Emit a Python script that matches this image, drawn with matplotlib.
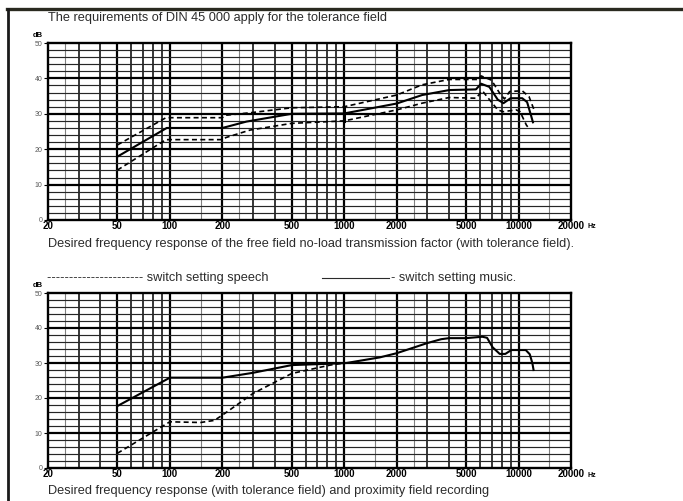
import matplotlib
matplotlib.use("Agg")
import matplotlib.pyplot as plt

plt.rcParams['font.family'] = ['Liberation Sans', 'DejaVu Sans']

# top chart: free field no-load transmission factor, nominal curve and tolerance field
f_upper = [50, 95, 200, 210, 290, 500, 1000, 2000, 2800, 4000, 5800, 6100, 7000, 7800, 8300, 8900, 10500, 11500, 12300]
db_upper = [21.2, 28.9, 28.9, 29.6, 30.3, 31.7, 32.0, 35.3, 38.2, 39.7, 39.7, 40.7, 39.5, 35.8, 34.2, 36.3, 36.5, 34.8, 31.0]
f_nominal = [50, 96, 200, 215, 275, 500, 1000, 2000, 2800, 4000, 5700, 6100, 6800, 7600, 8200, 9000, 10500, 11200, 11800, 12100]
db_nominal = [17.9, 26.0, 26.0, 26.4, 27.8, 30.0, 30.1, 32.9, 35.3, 36.7, 36.9, 38.5, 37.6, 34.0, 33.0, 34.4, 34.4, 33.3, 29.5, 27.6]
f_lower = [50, 95, 200, 210, 288, 500, 1000, 2000, 2800, 4000, 5700, 6200, 7600, 8150, 9700, 10200, 11100, 11500]
db_lower = [14.1, 22.7, 22.7, 23.3, 25.4, 27.3, 28.0, 31.1, 33.0, 34.6, 34.4, 36.5, 31.1, 30.6, 31.1, 30.6, 26.8, 25.8]

# bottom chart: proximity field recording, two switch settings
f_music = [50, 100, 200, 300, 500, 830, 1030, 1600, 2000, 3000, 3600, 4000, 5000, 6200, 6600, 7100, 7800, 8400, 9100, 11000, 11600, 12000, 12200]
db_music = [17.7, 25.8, 25.8, 27.2, 29.4, 29.8, 30.0, 31.6, 32.8, 35.7, 36.8, 37.1, 37.1, 37.5, 37.2, 34.5, 32.6, 32.6, 33.7, 33.7, 32.5, 30.0, 28.0]
f_speech = [50, 100, 150, 180, 200, 300, 500, 830, 1000]
db_speech = [4.2, 13.2, 13.0, 13.6, 15.1, 21.3, 27.0, 29.4, 30.0]

xticks = [20, 50, 100, 200, 500, 1000, 2000, 5000, 10000, 20000]
yticks = [0, 10, 20, 30, 40, 50]

W, H = 683, 501
fig = plt.figure(figsize=(W / 100, H / 100), dpi=100)
fig.patch.set_facecolor('white')


def px(x, y):
    return x / W, 1 - y / H


def grid_axes(left, top, right, bottom):
    ax = fig.add_axes([left / W, 1 - bottom / H, (right - left) / W, (bottom - top) / H])
    ax.set_xscale('log')
    ax.set_xlim(20, 20000)
    ax.set_ylim(0, 50)
    for dec in [10, 100, 1000, 10000]:
        for k in range(1, 10):
            f = k * dec
            if f <= 20 or f >= 20000:
                continue
            lw = 1.6 if k in (1, 2, 5) else 1.1
            ax.axvline(f, color='black', lw=lw, zorder=1)
        for k in (1.5, 2.5):
            f = k * dec
            if 20 < f < 20000:
                ax.axvline(f, color='0.5', lw=0.8, zorder=1)
    for d in range(2, 50, 2):
        lw = 1.6 if d % 10 == 0 else 0.85
        ax.axhline(d, color='black' if d % 10 == 0 else '0.15', lw=lw, zorder=1)
    for s in ax.spines.values():
        s.set_linewidth(1.7)
    ax.set_xticks(xticks)
    ax.set_xticklabels([str(t) for t in xticks], fontsize=7, fontweight='bold')
    ax.xaxis.set_minor_locator(plt.NullLocator())
    ax.set_yticks(yticks)
    ax.set_yticklabels([str(t) for t in yticks], fontsize=5, color='0.35')
    ax.tick_params(axis='x', length=0, pad=1)
    ax.tick_params(axis='y', length=3, width=0.8, pad=1)
    return ax


# top chart
ax1 = grid_axes(48, 43, 571, 220)
ax1.plot(f_upper, db_upper, color='black', lw=1.2, dashes=(3, 2), zorder=3)
ax1.plot(f_nominal, db_nominal, color='black', lw=1.5, zorder=3)
ax1.plot(f_lower, db_lower, color='black', lw=1.2, dashes=(3, 2), zorder=3)
ax1.plot([1000, 1000], [db_lower[6], db_upper[6]], color='black', lw=2.2, zorder=3)

# bottom chart
ax2 = grid_axes(48, 293, 571, 468)
ax2.plot(f_music, db_music, color='black', lw=1.5, zorder=3)
ax2.plot(f_speech, db_speech, color='black', lw=1.2, dashes=(3, 2), zorder=3)

txt = '#2b2b2b'
fs = 9.2
fig.text(*px(48, 21), 'The requirements of DIN 45 000 apply for the tolerance field',
         fontsize=fs, color=txt, va='baseline')
fig.text(*px(33, 37), 'dB', fontsize=5.5, fontweight='bold', va='baseline')
fig.text(*px(33, 287), 'dB', fontsize=5.5, fontweight='bold', va='baseline')
fig.text(*px(587, 228), 'Hz', fontsize=5, fontweight='bold', va='baseline')
fig.text(*px(587, 477), 'Hz', fontsize=5, fontweight='bold', va='baseline')
fig.text(*px(48, 247), 'Desired frequency response of the free field no-load transmission factor (with tolerance field).',
         fontsize=fs, color=txt, va='baseline')
fig.text(*px(47, 281), '---------------------- switch setting speech', fontsize=fs, color=txt, va='baseline')
fig.add_artist(plt.Line2D([322 / W, 389 / W], [1 - 277.5 / H, 1 - 277.5 / H], color=txt, lw=0.8))
fig.text(*px(391, 281), '- switch setting music.', fontsize=fs, color=txt, va='baseline')
fig.text(*px(48, 494), 'Desired frequency response (with tolerance field) and proximity field recording',
         fontsize=fs, color=txt, va='baseline')

# page frame of the scanned sheet
fig.add_artist(plt.Line2D([7 / W, 1], [1 - 9 / H, 1 - 9 / H], color='#2a2a20', lw=2.4))
fig.add_artist(plt.Line2D([8 / W, 8 / W], [0, 1 - 9 / H], color='#1a1a1a', lw=2.0))

fig.savefig('out.png', dpi=100)
